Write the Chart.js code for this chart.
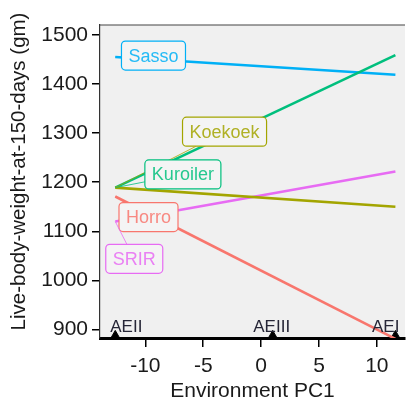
<!DOCTYPE html>
<html>
<head>
<meta charset="utf-8">
<script src="https://cdn.jsdelivr.net/npm/chart.js@4/dist/chart.umd.min.js"></script>
<style>
  html, body { margin: 0; padding: 0; background: #fff; overflow: hidden; }
  canvas { display: block; }
</style>
</head>
<body>
<canvas id="grafico" width="411" height="402"></canvas>
<script>
// --- datos ---
const breeds = ["Horro", "Koekoek", "Kuroiler", "Sasso", "SRIR"];
const breedColors = ["#F8766D", "#A3A500", "#00BF7D", "#00B0F6", "#E76BF3"];
const envPC1 = [-12.6, 11.6];           // extremos del eje ambiental
const horro = [1171, 881];
const koekoek = [1189, 1150];
const kuroiler = [1189, 1459];
const sasso = [1455, 1419];
const srir = [1120, 1222];
const zoneNames = ["AEII", "AEIII", "AEI"];
const zonePC1 = [-12.6, 1.0, 11.6];
const xTicks = [-10, -5, 0, 5, 10];
const yTicks = [900, 1000, 1100, 1200, 1300, 1400, 1500];

// posición de las etiquetas (coordenadas de datos, centro de la caja)
const labelPos = {
  Horro: [-9.73, 1129],
  Koekoek: [-3.16, 1303],
  Kuroiler: [-6.76, 1216],
  Sasso: [-9.3, 1458],
  SRIR: [-10.96, 1044]
};

const FONT = "'Liberation Sans', Arial, sans-serif";
const seriesValues = [horro, koekoek, kuroiler, sasso, srir];

const lineSets = breeds.map((b, i) => ({
  label: b,
  data: envPC1.map((x, j) => ({ x: x, y: seriesValues[i][j] })),
  borderColor: breedColors[i],
  borderWidth: 2.6,
  pointRadius: 0,
  fill: false
}));

const zoneSet = {
  label: "zones",
  data: zonePC1.map(x => ({ x: x, y: 888 })),
  showLine: false,
  pointStyle: "triangle",
  pointRadius: 5,
  backgroundColor: "#000",
  borderColor: "#000",
  borderWidth: 1,
  clip: false
};

/* ------------ fondo del panel y título del eje Y ------------ */
const panelPlugin = {
  id: "panel",
  beforeDraw(chart) {
    const { ctx, chartArea: a } = chart;
    ctx.save();
    ctx.fillStyle = "#f0f0f0";
    ctx.fillRect(a.left, a.top, a.right - a.left, a.bottom - a.top);
    ctx.strokeStyle = "#444";
    ctx.lineWidth = 1.2;
    ctx.beginPath();
    ctx.moveTo(a.left, a.top);
    ctx.lineTo(a.right, a.top);
    ctx.stroke();
    // título vertical (un poco más arriba que el centro del panel, como en el original)
    ctx.translate(19, (a.top + a.bottom) / 2 - 10);
    ctx.rotate(-Math.PI / 2);
    ctx.font = "20.5px " + FONT;
    ctx.fillStyle = "#1a1a1a";
    ctx.textAlign = "center";
    ctx.textBaseline = "middle";
    ctx.fillText("Live-body-weight-at-150-days (gm)", 0, 0);
    ctx.restore();
  }
};

/* ------------ etiquetas tipo ggrepel y zonas ------------ */
function roundRect(ctx, x, y, w, h, r) {
  ctx.beginPath();
  ctx.moveTo(x + r, y);
  ctx.lineTo(x + w - r, y);
  ctx.arcTo(x + w, y, x + w, y + r, r);
  ctx.lineTo(x + w, y + h - r);
  ctx.arcTo(x + w, y + h, x + w - r, y + h, r);
  ctx.lineTo(x + r, y + h);
  ctx.arcTo(x, y + h, x, y + h - r, r);
  ctx.lineTo(x, y + r);
  ctx.arcTo(x, y, x + r, y, r);
  ctx.closePath();
}

const labelPlugin = {
  id: "labels",
  afterDatasetsDraw(chart) {
    const { ctx, scales } = chart;
    ctx.save();
    ctx.font = "18px " + FONT;
    breeds.forEach((b, i) => {
      const col = breedColors[i];
      const cx = scales.x.getPixelForValue(labelPos[b][0]);
      const cy = scales.y.getPixelForValue(labelPos[b][1]);
      const w = ctx.measureText(b).width + 14;
      const h = 29;
      const bx = cx - w / 2, by = cy - h / 2;
      // segmento desde el inicio de la línea hacia la caja
      const sx = scales.x.getPixelForValue(envPC1[0]);
      const sy = scales.y.getPixelForValue(seriesValues[i][0]);
      const dx = cx - sx, dy = cy - sy;
      let t = 1;
      if (dx !== 0) t = Math.min(t, Math.abs((w / 2) / dx));
      if (dy !== 0) t = Math.min(t, Math.abs((h / 2) / dy));
      const ex = cx - dx * t, ey = cy - dy * t;
      ctx.strokeStyle = col;
      ctx.lineWidth = 0.8;
      ctx.beginPath();
      ctx.moveTo(sx, sy);
      ctx.lineTo(ex, ey);
      ctx.stroke();
      roundRect(ctx, bx, by, w, h, 4);
      ctx.fillStyle = "#f4f4f4";
      ctx.fill();
      ctx.lineWidth = 1.2;
      ctx.stroke();
      ctx.fillStyle = col;
      ctx.globalAlpha = 0.85;
      ctx.textAlign = "center";
      ctx.textBaseline = "middle";
      ctx.fillText(b, cx, cy + 1);
      ctx.globalAlpha = 1;
    });

    // nombres de las zonas agroecológicas
    const pts = chart.getDatasetMeta(breeds.length).data;
    ctx.font = "17px " + FONT;
    ctx.fillStyle = "#262637";
    ctx.textBaseline = "alphabetic";
    const aligns = ["left", "center", "right"];
    const shifts = [-5, -1, 4];
    zoneNames.forEach((z, i) => {
      ctx.textAlign = aligns[i];
      ctx.fillText(z, pts[i].x + shifts[i], pts[i].y - 3);
    });
    ctx.restore();
  }
};

/* ------------ gráfico ------------ */
new Chart(document.getElementById("grafico"), {
  type: "scatter",
  data: { datasets: [...lineSets, zoneSet] },
  options: {
    responsive: false,
    animation: false,
    events: [],
    layout: { padding: { top: 25, right: 0, left: 0, bottom: 0 } },
    datasets: { scatter: { showLine: true } },
    plugins: { legend: { display: false }, tooltip: { enabled: false } },
    scales: {
      x: {
        type: "linear",
        min: -13.92,
        max: 12.43,
        afterBuildTicks: s => { s.ticks = xTicks.map(v => ({ value: v })); },
        afterFit: s => { s.height = 64; },
        grid: { drawOnChartArea: false, drawTicks: true, tickLength: 9, color: "#000", lineWidth: 1.5 },
        border: { display: true, color: "#000", width: 3 },
        ticks: { padding: 7, color: "#1a1a1a", font: { family: FONT, size: 21 }, maxRotation: 0,
                 callback: v => String(v) },
        title: {
          display: true,
          text: "Environment PC1",
          color: "#1a1a1a",
          font: { family: FONT, size: 21, lineHeight: 1 },
          padding: { top: 0, bottom: 0 }
        }
      },
      y: {
        type: "linear",
        min: 882.7,
        max: 1520.3,
        afterBuildTicks: s => { s.ticks = yTicks.map(v => ({ value: v })); },
        afterFit: s => { s.width = 100; },
        grid: { drawOnChartArea: false, drawTicks: true, tickLength: 8, color: "#000", lineWidth: 1.5 },
        border: { display: true, color: "#333", width: 1.2 },
        ticks: { padding: 4, color: "#1a1a1a", font: { family: FONT, size: 21 },
                 callback: v => String(v) }
      }
    }
  },
  plugins: [panelPlugin, labelPlugin]
});
</script>
</body>
</html>
